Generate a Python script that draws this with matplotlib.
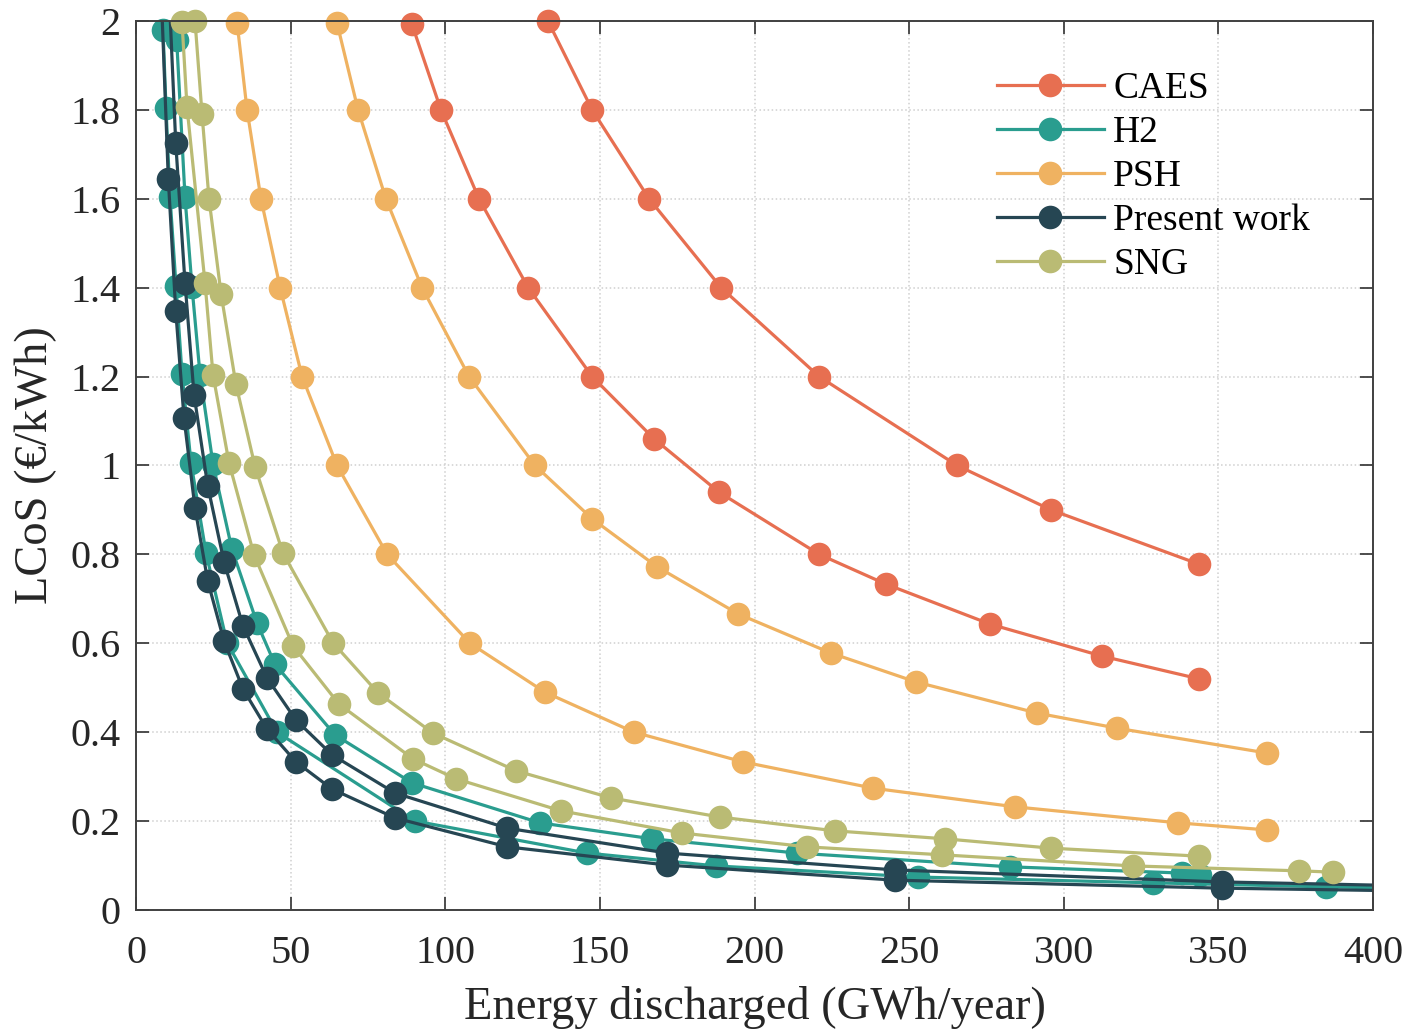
import matplotlib
matplotlib.use("Agg")
import matplotlib.pyplot as plt
from matplotlib.lines import Line2D

plt.rcParams["font.family"] = ["Liberation Serif", "DejaVu Serif"]

# CAES (two cost cases)
caes_hi_x = [133.2, 147.5, 165.9, 189.2, 220.9, 265.5, 295.9, 343.7]
caes_hi_y = [2.0, 1.80, 1.60, 1.40, 1.20, 1.00, 0.90, 0.778]
caes_lo_x = [89.2, 98.6, 110.9, 126.8, 147.5, 167.5, 188.5, 220.9, 242.5, 276.2, 312.4, 343.7]
caes_lo_y = [1.993, 1.80, 1.60, 1.40, 1.20, 1.06, 0.94, 0.80, 0.733, 0.643, 0.571, 0.52]

# H2
h2_hi_x = [13.15, 15.84, 18.1, 20.7, 24.9, 31.0, 39.1, 44.9, 64.3, 89.2, 130.6, 166.9, 213.7, 282.6, 338.2, 344.0]
h2_hi_y = [1.957, 1.604, 1.402, 1.204, 1.003, 0.812, 0.646, 0.553, 0.394, 0.286, 0.196, 0.160, 0.128, 0.097, 0.083, 0.079]
h2_lo_x = [8.73, 9.70, 10.99, 12.93, 14.87, 17.78, 22.64, 29.43, 45.59, 90.22, 145.8, 187.6, 252.9, 328.9, 384.8]
h2_lo_y = [1.980, 1.804, 1.604, 1.404, 1.206, 1.006, 0.803, 0.601, 0.400, 0.200, 0.128, 0.099, 0.074, 0.061, 0.052]
h2_lo_end = (400, 0.050)

# PSH
psh_hi_x = [65.0, 71.8, 80.8, 92.5, 107.7, 129.0, 147.5, 168.5, 194.7, 224.7, 252.2, 291.3, 317.2, 365.7]
psh_hi_y = [1.995, 1.80, 1.60, 1.40, 1.20, 1.00, 0.88, 0.772, 0.666, 0.578, 0.513, 0.443, 0.409, 0.353]
psh_lo_x = [32.7, 35.9, 40.4, 46.6, 53.7, 65.0, 81.2, 108.0, 132.2, 161.0, 196.3, 238.3, 284.2, 336.9, 365.7]
psh_lo_y = [1.995, 1.80, 1.60, 1.40, 1.20, 1.00, 0.80, 0.60, 0.49, 0.40, 0.333, 0.274, 0.232, 0.196, 0.18]

# Present work
pw_hi_x = [12.84, 15.84, 18.76, 23.19, 28.46, 34.60, 42.36, 51.74, 63.38, 83.75, 119.97, 171.7, 245.4, 351.2]
pw_hi_y = [1.726, 1.411, 1.159, 0.954, 0.783, 0.639, 0.522, 0.427, 0.349, 0.263, 0.184, 0.128, 0.090, 0.063]
pw_lo_x = [10.44, 12.84, 15.52, 19.08, 23.19, 28.46, 34.60, 42.36, 51.74, 63.38, 83.75, 119.97, 171.7, 245.4, 351.2]
pw_lo_y = [1.645, 1.348, 1.107, 0.904, 0.740, 0.605, 0.497, 0.407, 0.333, 0.272, 0.207, 0.142, 0.101, 0.067, 0.049]
pw_hi_ends = [(11.1, 2.0), (400, 0.056)]
pw_lo_ends = [(8.5, 2.0), (400, 0.044)]

# SNG
sng_hi_x = [19.08, 21.34, 23.6, 27.5, 32.3, 38.5, 47.5, 63.7, 78.3, 96.0, 122.9, 153.6, 188.8, 226.0, 261.6, 295.9, 343.7]
sng_hi_y = [2.0, 1.791, 1.600, 1.386, 1.183, 0.997, 0.803, 0.601, 0.488, 0.398, 0.313, 0.252, 0.209, 0.178, 0.160, 0.139, 0.121]
sng_lo_x = [14.87, 16.49, 22.31, 24.9, 30.07, 38.16, 50.77, 65.64, 89.57, 103.5, 137.4, 176.6, 217.0, 260.6, 322.4, 376.1, 387.1]
sng_lo_y = [1.998, 1.806, 1.411, 1.204, 1.006, 0.799, 0.594, 0.463, 0.340, 0.295, 0.223, 0.173, 0.142, 0.124, 0.099, 0.088, 0.085]

names = ["CAES", "H2", "PSH", "Present work", "SNG"]
colors = ["#e76f51", "#2a9d8f", "#efb261", "#264653", "#babb74"]

x_ticks = [0, 50, 100, 150, 200, 250, 300, 350, 400]
y_ticks = [0, 0.2, 0.4, 0.6, 0.8, 1.0, 1.2, 1.4, 1.6, 1.8, 2.0]
y_labels = ["0", "0.2", "0.4", "0.6", "0.8", "1", "1.2", "1.4", "1.6", "1.8", "2"]

LW = 2.3
MS = 17

fig = plt.figure(figsize=(14.11, 10.29), dpi=100)
ax = fig.add_axes([0.0964, 0.1157, 0.8767, 0.8639])


def curve(xs, ys, color, head=None, tail=None):
    lx = list(xs)
    ly = list(ys)
    if head:
        lx = [head[0]] + lx
        ly = [head[1]] + ly
    if tail:
        lx = lx + [tail[0]]
        ly = ly + [tail[1]]
    ax.plot(lx, ly, color=color, lw=LW, clip_on=True)
    ax.plot(xs, ys, "o", color=color, ms=MS, mew=0, clip_on=False)


curve(caes_hi_x, caes_hi_y, colors[0])
curve(caes_lo_x, caes_lo_y, colors[0])
curve(h2_hi_x, h2_hi_y, colors[1])
curve(h2_lo_x, h2_lo_y, colors[1], tail=h2_lo_end)
curve(psh_hi_x, psh_hi_y, colors[2])
curve(psh_lo_x, psh_lo_y, colors[2])
curve(pw_hi_x, pw_hi_y, colors[3], head=pw_hi_ends[0], tail=pw_hi_ends[1])
curve(pw_lo_x, pw_lo_y, colors[3], head=pw_lo_ends[0], tail=pw_lo_ends[1])
curve(sng_hi_x, sng_hi_y, colors[4])
curve(sng_lo_x, sng_lo_y, colors[4])

ax.set_xlim(0, 400)
ax.set_ylim(0, 2)
ax.set_xticks(x_ticks)
ax.set_yticks(y_ticks)
ax.set_yticklabels(y_labels)
ax.grid(True, ls=":", color="#cfcfcf", lw=1.1)
ax.set_axisbelow(True)
ax.tick_params(direction="in", length=9.5, width=1.3, top=True, right=True,
               labelsize=29, colors="#404040", labelcolor="#262626", pad=11)
ax.tick_params(axis="x", pad=18)
for s in ax.spines.values():
    s.set_color("#404040")
    s.set_linewidth(1.4)

ax.set_xlabel("Energy discharged (GWh/year)", fontsize=33.5, color="#262626", labelpad=10)
ax.set_ylabel("LCoS (\u20ac/kWh)", fontsize=33.5, color="#262626", labelpad=10)

handles = [Line2D([], [], color=c, lw=LW, marker="o", ms=MS, mew=0) for c in colors]
ax.legend(handles, names, loc="upper left", bbox_to_anchor=(0.696, 0.943), frameon=False,
          fontsize=27, handlelength=2.85, handletextpad=0.25, labelspacing=0.25,
          borderpad=0, borderaxespad=0)

fig.savefig("out.png", dpi=100)
